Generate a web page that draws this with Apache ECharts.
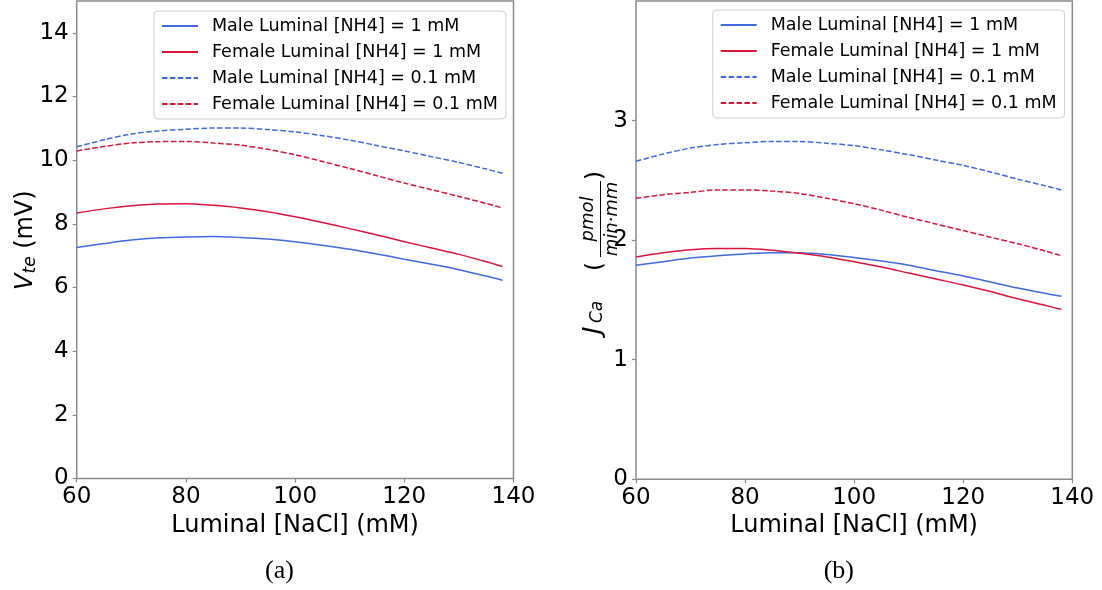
<!DOCTYPE html>
<html>
<head>
<meta charset="utf-8">
<script src="https://cdn.jsdelivr.net/npm/echarts@6/dist/echarts.min.js"></script>
<style>html,body{margin:0;padding:0;background:#fff}#c{width:1102px;height:590px}</style>
</head>
<body>
<div id="c"></div>
<script>
// ---- data ----
const nacl = [60, 65, 70, 75, 80, 85, 90, 95, 100, 105, 110, 115, 120, 125, 130, 135, 138];
// (a) V_te (mV)
const vteMale1 = [7.26, 7.38, 7.49, 7.56, 7.59, 7.60, 7.57, 7.52, 7.44, 7.33, 7.20, 7.05, 6.89, 6.73, 6.56, 6.36, 6.23];
const vteFemale1 = [8.34, 8.47, 8.57, 8.62, 8.63, 8.58, 8.50, 8.38, 8.22, 8.04, 7.85, 7.65, 7.44, 7.24, 7.04, 6.81, 6.66];
const vteMale01 = [10.42, 10.64, 10.82, 10.92, 10.97, 11.01, 11.01, 10.96, 10.89, 10.77, 10.63, 10.46, 10.29, 10.11, 9.93, 9.72, 9.59];
const vteFemale01 = [10.29, 10.43, 10.54, 10.58, 10.59, 10.54, 10.47, 10.34, 10.17, 9.96, 9.74, 9.51, 9.28, 9.07, 8.86, 8.64, 8.50];
// (b) J_Ca (pmol/(min*mm))
const jcaMale1 = [1.79, 1.82, 1.85, 1.87, 1.885, 1.895, 1.895, 1.88, 1.855, 1.825, 1.79, 1.745, 1.70, 1.65, 1.60, 1.555, 1.53];
const jcaFemale1 = [1.86, 1.895, 1.92, 1.93, 1.93, 1.915, 1.89, 1.86, 1.82, 1.775, 1.725, 1.675, 1.625, 1.57, 1.51, 1.455, 1.42];
const jcaMale01 = [2.66, 2.72, 2.77, 2.80, 2.815, 2.825, 2.825, 2.81, 2.79, 2.755, 2.715, 2.67, 2.625, 2.57, 2.51, 2.455, 2.42];
const jcaFemale01 = [2.35, 2.38, 2.40, 2.42, 2.42, 2.41, 2.39, 2.35, 2.305, 2.25, 2.19, 2.135, 2.08, 2.025, 1.97, 1.91, 1.87];
const names = ['Male Luminal [NH4] = 1 mM', 'Female Luminal [NH4] = 1 mM',
               'Male Luminal [NH4] = 0.1 mM', 'Female Luminal [NH4] = 0.1 mM'];
const xTicks = [60, 80, 100, 120, 140];
const yTicksA = [0, 2, 4, 6, 8, 10, 12, 14];
const yTicksB = [0, 1, 2, 3];
const xTitle = 'Luminal [NaCl] (mM)';
const captions = ['(a)', '(b)'];

// ---- styling ----
const BLUE = '#4169e1', RED = '#dc143c';
const FONT = 'DejaVu Sans';
const GRAY = '#8a8a8a';
const DASH = [5.5, 2.4];

function pairs(ys) { return nacl.map((x, i) => [x, ys[i]]); }

const setsA = [vteMale1, vteFemale1, vteMale01, vteFemale01];
const setsB = [jcaMale1, jcaFemale1, jcaMale01, jcaFemale01];
const colors = [BLUE, RED, BLUE, RED];
const types = ['solid', 'solid', DASH, DASH];

const series = [];
[setsA, setsB].forEach((sets, gi) => {
  sets.forEach((ys, i) => {
    series.push({
      type: 'line', name: names[i], xAxisIndex: gi, yAxisIndex: gi,
      data: pairs(ys), smooth: 0.3, showSymbol: false, symbol: 'none',
      color: colors[i],
      itemStyle: { color: colors[i] },
      lineStyle: { color: colors[i], width: 1.5, type: types[i] },
      z: 3
    });
  });
});

function xAxis(gi) {
  return {
    type: 'value', gridIndex: gi, min: 60, max: 140, interval: 20,
    name: xTitle, nameLocation: 'middle', nameGap: 32,
    nameTextStyle: { fontFamily: FONT, fontSize: 24, color: '#000' },
    axisLine: { show: false },
    axisTick: { show: true, length: 4, lineStyle: { color: GRAY, width: 1.2 }, customValues: xTicks },
    axisLabel: { fontFamily: FONT, fontSize: 23, color: '#000', margin: 7, customValues: xTicks },
    splitLine: { show: false }
  };
}
function yAxis(gi, max, interval, ticks) {
  return {
    type: 'value', gridIndex: gi, min: 0, max: max, interval: interval,
    axisLine: { show: false },
    axisTick: { show: true, length: 4, lineStyle: { color: GRAY, width: 1.2 }, customValues: ticks },
    axisLabel: { fontFamily: FONT, fontSize: 23, color: '#000', margin: 8, customValues: ticks,
      formatter: v => (ticks.indexOf(v) >= 0 ? String(v) : '') },
    splitLine: { show: false }
  };
}
function legend(left, top) {
  return {
    show: true, type: 'plain',
    orient: 'vertical', left: left, top: top, align: 'left',
    data: names,
    itemWidth: 36, itemHeight: 14, itemGap: 6,
    padding: [5, 8, 5, 7],
    backgroundColor: 'rgba(255,255,255,0.8)',
    borderColor: '#d0d0d0', borderWidth: 1, borderRadius: 4,
    selectedMode: false,
    itemStyle: { color: 'rgba(0,0,0,0)', borderColor: 'rgba(0,0,0,0)', borderWidth: 0, opacity: 0 },
    textStyle: { fontFamily: FONT, fontSize: 17.5, color: '#000', lineHeight: 20, padding: [0, 0, 0, 9] }
  };
}

// y-axis title graphics (rotated)
function t(text, x, ymid, font) {
  return { type: 'text', x: x, y: ymid,
    style: { text: text, font: font, fill: '#000', align: 'left', verticalAlign: 'middle' } };
}
function tc(text, x, ymid, font) {
  return { type: 'text', x: x, y: ymid,
    style: { text: text, font: font, fill: '#000', align: 'center', verticalAlign: 'middle' } };
}
const it24 = 'italic 24px "DejaVu Sans"', it25 = 'italic 25px "DejaVu Sans"', it17 = 'italic 17px "DejaVu Sans"', it18 = 'italic 18px "DejaVu Sans"';
const r24 = '24px "DejaVu Sans"', r23 = '23px "DejaVu Sans"';

const labelA = {
  type: 'group', x: 33.3, y: 240, rotation: Math.PI / 2,
  children: [
    t('V', -50, -7.2, it24),
    t('te', -33.5, -2.6, it17),
    t(' (mV)', -16.5, -7.2, r24)
  ]
};
const labelB = {
  type: 'group', x: 597.5, y: 251, rotation: Math.PI / 2,
  children: [
    t('J', -83, -4.5, it25),
    t('Ca', -72, 0.5, it17),
    t('(', -20, -1.5, r23),
    { type: 'rect', shape: { x: -6, y: 2.5, width: 76, height: 1 }, style: { fill: '#000' } },
    tc('pmol', 32, -9, it18),
    tc('min\u00b7mm', 32, 15, it18),
    t(')', 71, -1.5, r23)
  ]
};
const capFont = '26px "Liberation Serif"';

const option = {
  animation: false,
  backgroundColor: '#fff',
  grid: [
    { left: 76.7, top: 1, width: 436.8, height: 477.5, show: true, borderColor: GRAY, borderWidth: 1.5, backgroundColor: 'transparent' },
    { left: 636, top: 1, width: 436.3, height: 478.3, show: true, borderColor: GRAY, borderWidth: 1.5, backgroundColor: 'transparent' }
  ],
  xAxis: [xAxis(0), xAxis(1)],
  yAxis: [yAxis(0, 15, 2, yTicksA), yAxis(1, 4, 1, yTicksB)],
  legend: [legend(154, 11), legend(712.7, 10)],
  series: series,
  graphic: [
    labelA, labelB,
    { type: 'text', x: 279.5, y: 571, style: { text: captions[0], font: capFont, fill: '#000', align: 'center', verticalAlign: 'middle' } },
    { type: 'text', x: 838.8, y: 571, style: { text: captions[1], font: capFont, fill: '#000', align: 'center', verticalAlign: 'middle' } }
  ]
};
const chart = echarts.init(document.getElementById('c'), null, { renderer: 'canvas' });
chart.setOption(option);
</script>
</body>
</html>
